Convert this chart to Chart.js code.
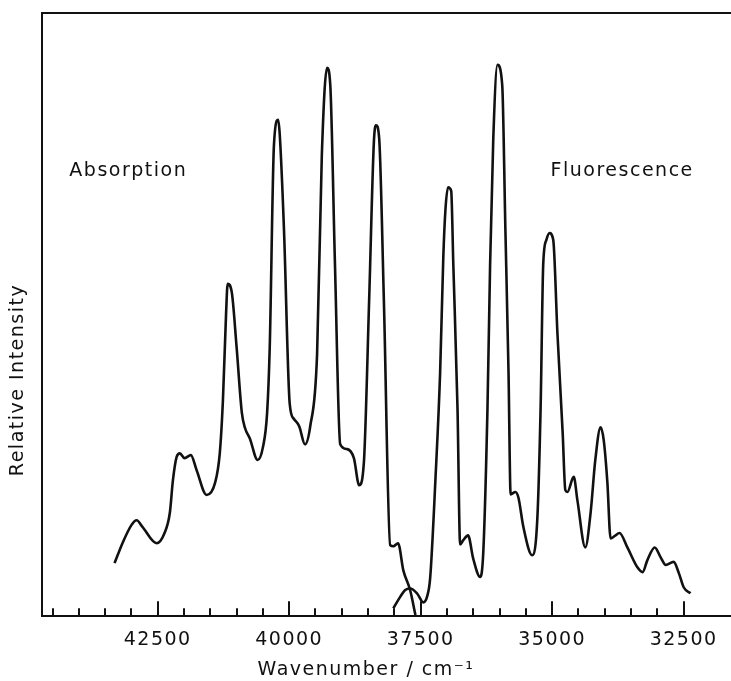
<!DOCTYPE html>
<html>
<head>
<meta charset="utf-8">
<script src="https://cdn.jsdelivr.net/npm/chart.js@4"></script>
<style>
  html, body { margin: 0; padding: 0; background: #fff; }
  #wrap { width: 731px; height: 681px; }
</style>
</head>
<body>
<div id="wrap"><canvas id="spectrum"></canvas></div>
<script>
// Absorption band (cm-1 vs relative intensity)
const absWavenumber = [43320, 43170, 43000, 42900, 42790, 42520, 42370, 42270, 42210, 42140,
  42080, 41990, 41870, 41760, 41570, 41410, 41320, 41260, 41200, 41170,
  41090, 41000, 40900, 40840, 40750, 40600, 40500, 40420, 40370, 40290,
  40210, 40180, 40100, 39990, 39910, 39810, 39700, 39600, 39470, 39380,
  39280, 39220, 39130, 39030, 38900, 38770, 38670, 38580, 38480, 38390,
  38350, 38290, 38200, 38080, 38020, 37930, 37830, 37700, 37600];
const absIntensity = [8.8, 12.1, 15.1, 15.9, 14.8, 12.1, 13.8, 17.1, 22.6, 26.4,
  27.0, 26.2, 26.7, 24.2, 20.1, 22.1, 27.0, 35.8, 50.2, 55.1,
  53.6, 44.6, 33.7, 31.2, 29.5, 25.9, 28.0, 33.7, 44.6, 78.1,
  82.3, 79.9, 64.3, 35.2, 32.7, 31.5, 28.5, 31.5, 43.4, 76.3,
  90.9, 88.2, 58.4, 28.5, 27.7, 26.2, 21.7, 25.5, 52.4, 78.6,
  81.4, 79.3, 52.4, 11.8, 11.6, 12.1, 7.6, 4.3, 0.2];

// Fluorescence band
const fluWavenumber = [38020, 37890, 37800, 37700, 37570, 37450, 37380, 37320, 37220, 37130,
  37070, 37030, 36980, 36920, 36880, 36800, 36750, 36690, 36600, 36500,
  36370, 36310, 36230, 36180, 36120, 36040, 35950, 35890, 35830, 35790,
  35700, 35640, 35550, 35380, 35280, 35220, 35170, 35110, 35050, 34980,
  34900, 34800, 34750, 34710, 34590, 34520, 34370, 34270, 34180, 34080,
  34020, 33950, 33890, 33810, 33720, 33570, 33380, 33280, 33190, 33050,
  32940, 32840, 32690, 32590, 32500, 32370];
const fluIntensity = [1.3, 3.2, 4.3, 4.6, 3.8, 2.3, 3.2, 6.3, 22.6, 40.5,
  59.5, 67.3, 71.1, 70.5, 58.4, 34.5, 11.9, 12.6, 13.4, 9.5,
  6.5, 10.6, 34.5, 58.4, 79.1, 91.4, 88.1, 64.3, 40.5, 20.2,
  20.6, 19.6, 14.9, 10.1, 16.6, 34.5, 58.4, 62.4, 63.5, 62.4,
  46.9, 30.3, 20.9, 20.6, 23.1, 19.2, 11.4, 17.1, 25.9, 31.3,
  29.2, 22.1, 12.9, 13.3, 13.8, 11.4, 8.1, 7.3, 9.3, 11.4,
  9.8, 8.5, 9.0, 7.1, 4.8, 3.8];

// x axis: labelled ticks every 2500, small ticks every 500
const majorTicks = [42500, 40000, 37500, 35000, 32500];
const minorStep = 500;

const ink = '#111';
const font = '"DejaVu Sans", sans-serif';

function toPoints(xs, ys) {
  return xs.map((x, i) => ({ x: x, y: ys[i] }));
}

const axisTicks = [];
for (let v = 32500; v <= 44500; v += minorStep) axisTicks.push(v);

// frame, inward ticks and free text
const framePlugin = {
  id: 'frame',
  beforeLayout(chart) { chart.ctx.letterSpacing = '1.5px'; },
  beforeDraw(chart) { chart.ctx.letterSpacing = '1.5px'; },
  afterDraw(chart) {
    const { ctx, chartArea: a } = chart;
    const x = chart.scales.x;
    const y = chart.scales.y;
    ctx.save();
    ctx.strokeStyle = ink;
    ctx.lineWidth = 2;
    ctx.beginPath();
    ctx.moveTo(a.left, a.bottom);
    ctx.lineTo(a.left, a.top);
    ctx.lineTo(a.right, a.top);
    x.ticks.forEach(t => {
      const px = Math.round(x.getPixelForValue(t.value));
      const len = majorTicks.includes(t.value) ? 15 : 8;
      ctx.moveTo(px, a.bottom);
      ctx.lineTo(px, a.bottom - len);
    });
    ctx.stroke();

    ctx.fillStyle = ink;
    ctx.font = '19px ' + font;
    ctx.letterSpacing = '1.5px';
    ctx.textBaseline = 'middle';
    ctx.textAlign = 'left';
    ctx.fillText('Absorption', x.getPixelForValue(44180), y.getPixelForValue(73.8));
    ctx.fillText('Fluorescence', x.getPixelForValue(35030), y.getPixelForValue(73.8));

    ctx.textAlign = 'center';
    ctx.fillText('Wavenumber / cm\u207B\u00B9', a.left + 324, 670);

    ctx.translate(18, a.top + 367);
    ctx.rotate(-Math.PI / 2);
    ctx.fillText('Relative Intensity', 0, 0);
    ctx.restore();
  }
};

new Chart(document.getElementById('spectrum'), {
  type: 'line',
  data: {
    datasets: [{
      label: 'Absorption',
      data: toPoints(absWavenumber, absIntensity),
      borderColor: ink,
      borderWidth: 2.6,
      pointRadius: 0,
      cubicInterpolationMode: 'monotone',
      fill: false
    }, {
      label: 'Fluorescence',
      data: toPoints(fluWavenumber, fluIntensity),
      borderColor: ink,
      borderWidth: 2.6,
      pointRadius: 0,
      cubicInterpolationMode: 'monotone',
      fill: false
    }]
  },
  options: {
    responsive: true,
    maintainAspectRatio: false,
    animation: false,
    devicePixelRatio: 1,
    layout: {
      padding: { left: 42, top: 13, right: 0, bottom: 18 }
    },
    plugins: {
      legend: { display: false },
      tooltip: { enabled: false }
    },
    scales: {
      x: {
        type: 'linear',
        reverse: true,
        min: 31600,
        max: 44700,
        afterBuildTicks: function(scale) {
          scale.ticks = axisTicks.map(v => ({ value: v }));
        },
        grid: { display: false, drawTicks: false },
        border: { display: true, color: ink, width: 2 },
        ticks: {
          autoSkip: false,
          maxRotation: 0,
          padding: 12,
          color: ink,
          font: { family: font, size: 19 },
          callback: function(value) {
            return majorTicks.includes(value) ? String(value) : '';
          }
        }
      },
      y: {
        display: false,
        min: 0,
        max: 100
      }
    }
  },
  plugins: [framePlugin]
});
</script>
</body>
</html>
